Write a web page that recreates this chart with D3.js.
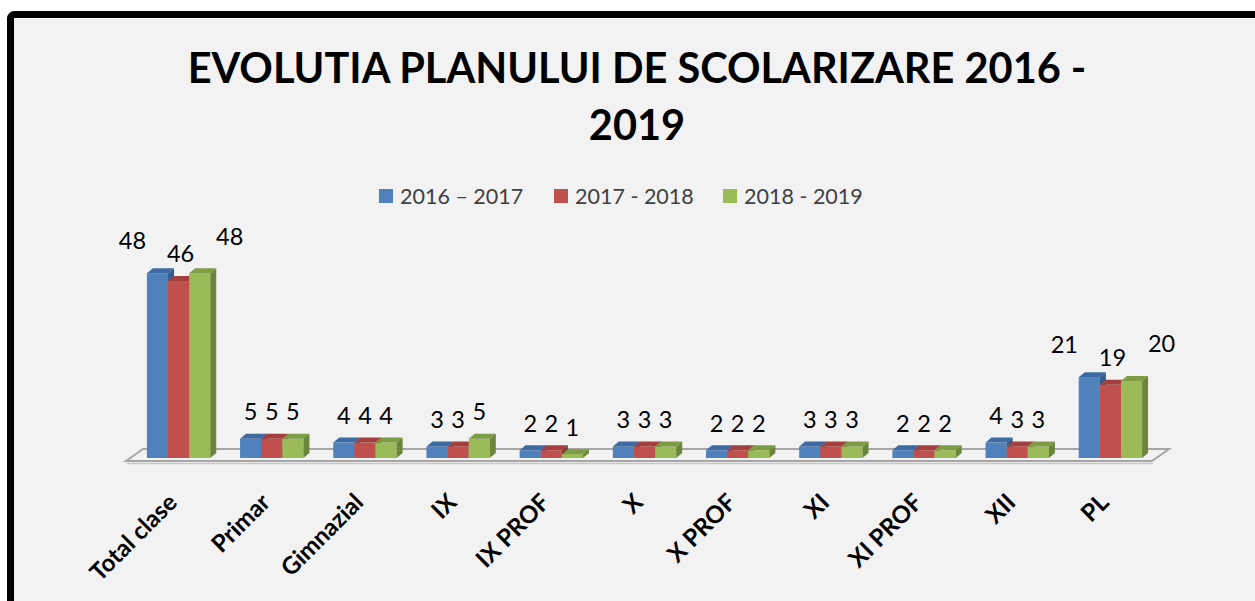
<!DOCTYPE html>
<html>
<head>
<meta charset="utf-8">
<script src="https://cdn.jsdelivr.net/npm/d3@7"></script>
<style>
  html, body { margin: 0; padding: 0; background: #fff; overflow: hidden; }
  svg { display: block; }
</style>
</head>
<body>
<div id="chart"></div>
<script>
/************************************************************
 * Data
 ************************************************************/
const categories = ['Total clase', 'Primar', 'Gimnazial', 'IX', 'IX PROF', 'X', 'X PROF', 'XI', 'XI PROF', 'XII', 'PL'];
const seriesNames = ['2016 – 2017', '2017 - 2018', '2018 - 2019'];
const values2016 = [48, 5, 4, 3, 2, 3, 2, 3, 2, 4, 21];
const values2017 = [46, 5, 4, 3, 2, 3, 2, 3, 2, 3, 19];
const values2018 = [48, 5, 4, 5, 1, 3, 2, 3, 2, 3, 20];
const titleLines = ['EVOLUTIA PLANULUI DE SCOLARIZARE 2016 -', '2019'];

const seriesValues = [values2016, values2017, values2018];

// Excel 2007 palette: front, top, side
const faceColors = [
  { front: '#4f81bd', top: '#3d6aa3', side: '#345c8d' },
  { front: '#c0504d', top: '#a33f3c', side: '#8c3634' },
  { front: '#9bbb59', top: '#7e9c44', side: '#6b853a' }
];

const W = 1255, H = 601;
const depth = { dx: 6, dy: -5 };

const svg = d3.select('#chart').append('svg')
  .attr('width', W)
  .attr('height', H);

// chart area + thick frame (runs off the right/bottom edge like the screenshot)
svg.append('rect')
  .attr('x', 10.5).attr('y', 14.5)
  .attr('width', 1400).attr('height', 800)
  .attr('rx', 4)
  .attr('fill', '#f2f2f2')
  .attr('stroke', '#000')
  .attr('stroke-width', 7);

/************************************************************
 * Scales
 ************************************************************/
const x = d3.scaleBand()
  .domain(categories)
  .range([132, 1157])
  .paddingInner(0.32)
  .paddingOuter(0.16);

const xs = d3.scaleBand()
  .domain(d3.range(seriesNames.length))
  .range([0, x.bandwidth()]);

const y = d3.scaleLinear()
  .domain([0, 50])
  .range([458, 265.5]);

/************************************************************
 * Title + legend
 ************************************************************/
svg.selectAll('.title')
  .data(titleLines)
  .join('text')
  .attr('class', 'title')
  .attr('x', 637)
  .attr('y', (d, i) => 83 + i * 57)
  .attr('text-anchor', 'middle')
  .attr('font-family', 'Lato, sans-serif')
  .attr('font-weight', 'bold')
  .attr('font-size', 41.5)
  .attr('fill', '#000')
  .text(d => d);

const legendX = [379, 554, 723];
const legend = svg.selectAll('.legend')
  .data(seriesNames)
  .join('g')
  .attr('class', 'legend')
  .attr('transform', (d, i) => `translate(${legendX[i]}, 196)`);

legend.append('rect')
  .attr('x', 0).attr('y', -7)
  .attr('width', 14).attr('height', 14)
  .attr('fill', (d, i) => faceColors[i].front);

legend.append('text')
  .attr('x', 21)
  .attr('dy', '0.36em')
  .attr('font-family', 'Lato, sans-serif')
  .attr('font-size', 21.5)
  .attr('fill', '#404040')
  .text(d => d);

/************************************************************
 * Floor (3D plane)
 ************************************************************/
const [r0, r1] = x.range();
const yBase = y(0);
const floorDepth = { dx: 17, dy: -12 };
const fl = { x0: r0 - 6, x1: r1 - 5, y: yBase + 3 };
const floorPts = [
  [fl.x0, fl.y],
  [fl.x0 + floorDepth.dx, fl.y + floorDepth.dy],
  [fl.x1 + floorDepth.dx, fl.y + floorDepth.dy],
  [fl.x1, fl.y]
];
svg.append('path')
  .attr('d', d3.line()(floorPts) + 'Z')
  .attr('fill', 'none')
  .attr('stroke', '#a6a6a6')
  .attr('stroke-width', 2);
svg.append('line')
  .attr('x1', fl.x0 + 1).attr('x2', fl.x1 + 1)
  .attr('y1', fl.y + 2.5).attr('y2', fl.y + 2.5)
  .attr('stroke', '#c8c8c8')
  .attr('stroke-width', 1.5);

/************************************************************
 * 3D bars
 ************************************************************/
const barData = [];
categories.forEach((c, ci) => {
  seriesValues.forEach((vals, si) => {
    barData.push({ cat: c, s: si, v: vals[ci] });
  });
});

const bars = svg.append('g').selectAll('g')
  .data(barData)
  .join('g');

bars.each(function(d) {
  const g = d3.select(this);
  const bx = x(d.cat) + xs(d.s);
  const bw = xs.bandwidth();
  const top = y(d.v);
  const c = faceColors[d.s];
  // front face
  g.append('rect')
    .attr('x', bx).attr('y', top)
    .attr('width', bw).attr('height', yBase - top)
    .attr('fill', c.front);
  // top face
  g.append('path')
    .attr('d', d3.line()([
      [bx, top], [bx + depth.dx, top + depth.dy],
      [bx + bw + depth.dx, top + depth.dy], [bx + bw, top]
    ]) + 'Z')
    .attr('fill', c.top);
  // side face
  g.append('path')
    .attr('d', d3.line()([
      [bx + bw, top], [bx + bw + depth.dx, top + depth.dy],
      [bx + bw + depth.dx, yBase + depth.dy], [bx + bw, yBase]
    ]) + 'Z')
    .attr('fill', c.side);
});

/************************************************************
 * Value labels (tall bars get pushed apart like Excel's 3D layout)
 ************************************************************/
const tallNudge = [[-25, -6], [2, 0], [30, -10]];
svg.append('g').selectAll('text')
  .data(barData)
  .join('text')
  .attr('x', d => {
    const cx = x(d.cat) + xs(d.s) + xs.bandwidth() / 2;
    return d.v > 10 ? cx + tallNudge[d.s][0] : cx;
  })
  .attr('y', d => y(d.v) - 27 + (d.v > 10 ? tallNudge[d.s][1] : 0))
  .attr('dy', '0.36em')
  .attr('text-anchor', 'middle')
  .attr('font-family', 'Lato, sans-serif')
  .attr('font-size', 23.5)
  .attr('fill', '#000')
  .text(d => d.v);

/************************************************************
 * Category labels (rotated)
 ************************************************************/
svg.append('g').selectAll('text')
  .data(categories)
  .join('text')
  .attr('transform', d => `translate(${x(d) + x.bandwidth() / 2 - 12}, ${yBase + 34}) rotate(-45)`)
  .attr('text-anchor', 'end')
  .attr('dy', '0.7em')
  .attr('font-family', 'Lato, sans-serif')
  .attr('font-weight', 'bold')
  .attr('font-size', 24)
  .attr('fill', '#000')
  .text(d => d);
</script>
</body>
</html>
